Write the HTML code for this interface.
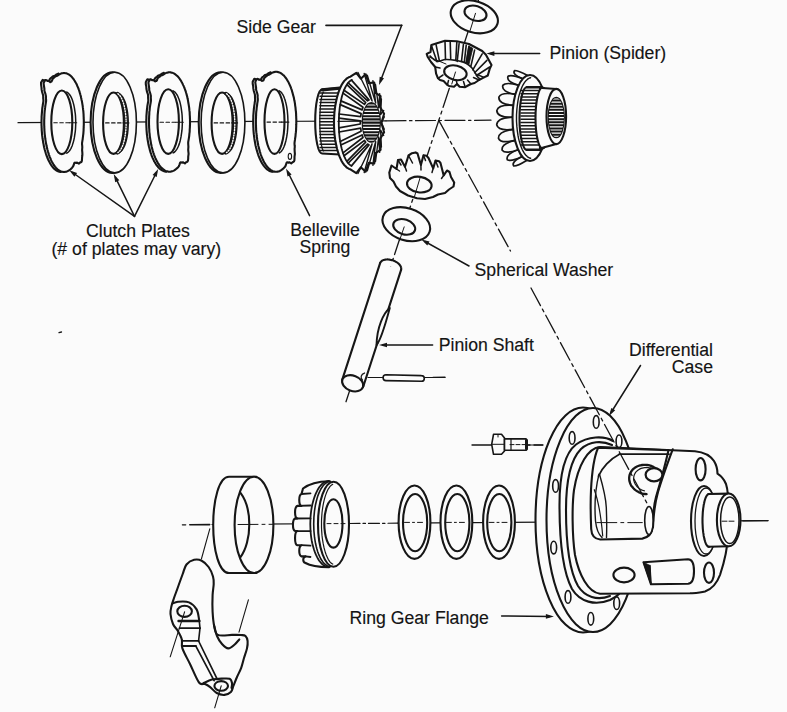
<!DOCTYPE html>
<html><head><meta charset="utf-8"><style>
html,body{margin:0;padding:0;background:#fbfbfb;}
svg{display:block;}
text{font-family:"Liberation Sans",sans-serif;font-size:17.65px;fill:#141414;stroke:#141414;stroke-width:0.15px;}
</style></head><body>
<svg width="787" height="712" viewBox="0 0 787 712" stroke-linecap="round" stroke-linejoin="round">
<defs><clipPath id="sg1b"><ellipse cx="371.3" cy="122.4" rx="8.6" ry="19.4"/></clipPath><clipPath id="sg2b"><ellipse cx="556.3" cy="117.5" rx="7.6" ry="19.8"/></clipPath></defs>
<rect width="787" height="712" fill="#fbfbfb"/>
<text x="236.5" y="33" text-anchor="start">Side Gear</text>
<text x="549.5" y="58.7" text-anchor="start">Pinion (Spider)</text>
<text x="86" y="236.7" text-anchor="start">Clutch Plates</text>
<text x="51.5" y="254.5" text-anchor="start">(# of plates may vary)</text>
<text x="290.3" y="235.8" text-anchor="start">Belleville</text>
<text x="299.4" y="253" text-anchor="start">Spring</text>
<text x="474.6" y="275.5" text-anchor="start">Spherical Washer</text>
<text x="438.8" y="350.5" text-anchor="start">Pinion Shaft</text>
<text x="713" y="355.5" text-anchor="end">Differential</text>
<text x="713" y="373" text-anchor="end">Case</text>
<text x="349.6" y="623.8" text-anchor="start">Ring Gear Flange</text>
<line x1="59" y1="332.6" x2="61.5" y2="332" stroke="#161616" stroke-width="1.3" />
<line x1="326" y1="25.3" x2="401.7" y2="25.3" stroke="#161616" stroke-width="1.7" />
<line x1="401.7" y1="25.3" x2="380.4" y2="81.3" stroke="#161616" stroke-width="1.5" />
<path d="M379,85 L379.7,76.7 L384,78.3Z" fill="#161616"/>
<line x1="539.7" y1="53.6" x2="490.4" y2="53.6" stroke="#161616" stroke-width="1.5" />
<path d="M486.4,53.6 L494.4,51.3 L494.4,55.9Z" fill="#161616"/>
<line x1="134.5" y1="216.4" x2="72.5" y2="172.5" stroke="#161616" stroke-width="1.5" />
<path d="M69.2,170.2 L77.1,172.9 L74.4,176.7Z" fill="#161616"/>
<line x1="134.5" y1="216.4" x2="115.5" y2="177.6" stroke="#161616" stroke-width="1.5" />
<path d="M113.7,174 L119.3,180.2 L115.2,182.2Z" fill="#161616"/>
<line x1="134.5" y1="216.4" x2="156.4" y2="172.5" stroke="#161616" stroke-width="1.5" />
<path d="M158.2,168.9 L156.7,177.1 L152.6,175Z" fill="#161616"/>
<line x1="309.6" y1="215.7" x2="287.8" y2="172" stroke="#161616" stroke-width="1.5" />
<path d="M286,168.4 L291.6,174.5 L287.5,176.6Z" fill="#161616"/>
<line x1="469" y1="266" x2="424.9" y2="241.5" stroke="#161616" stroke-width="1.5" />
<path d="M421.4,239.6 L429.5,241.5 L427.3,245.5Z" fill="#161616"/>
<line x1="432.6" y1="345" x2="383" y2="345" stroke="#161616" stroke-width="1.5" />
<path d="M379,345 L387,342.7 L387,347.3Z" fill="#161616"/>
<line x1="640.5" y1="365.5" x2="611.1" y2="412.5" stroke="#161616" stroke-width="1.5" />
<path d="M609,415.9 L611.3,407.9 L615.2,410.3Z" fill="#161616"/>
<line x1="501.6" y1="616" x2="549.9" y2="616.5" stroke="#161616" stroke-width="1.5" />
<path d="M553.9,616.5 L545.9,618.7 L545.9,614.1Z" fill="#161616"/>
<line x1="18" y1="122.7" x2="386" y2="120.8" stroke="#161616" stroke-width="1.2" />
<line x1="386" y1="120.8" x2="491" y2="120.2" stroke="#161616" stroke-width="1.2" stroke-dasharray="20 3.5 2.5 3.5"/>
<line x1="478.5" y1="0" x2="344.9" y2="405" stroke="#161616" stroke-width="1.3" stroke-dasharray="20 4 3 4"/>
<line x1="438.8" y1="120.4" x2="510.5" y2="251" stroke="#161616" stroke-width="1.3" stroke-dasharray="20 4 3 4"/>
<line x1="182.4" y1="524.8" x2="185.7" y2="524.8" stroke="#161616" stroke-width="1.3" />
<line x1="189.8" y1="524.8" x2="209.7" y2="524.6" stroke="#161616" stroke-width="1.6" />
<line x1="212" y1="524.5" x2="349" y2="523.5" stroke="#161616" stroke-width="1.2" />
<line x1="349" y1="523.5" x2="398" y2="523.2" stroke="#161616" stroke-width="1.2" stroke-dasharray="11 3 2.5 3"/>
<line x1="398" y1="523.2" x2="768" y2="520.6" stroke="#161616" stroke-width="1.2" />
<line x1="472" y1="445" x2="543" y2="445" stroke="#161616" stroke-width="1.3" stroke-dasharray="20 4 3 4"/>
<line x1="368" y1="377.5" x2="445" y2="377.5" stroke="#161616" stroke-width="1.2" />
<path d="M60.6,172 L60.1,171.9 L59.6,171.8 L59.1,171.7 L58.7,171.6 L58.2,171.4 L57.7,171.2 L57.2,170.9 L56.7,170.7 L56.3,170.4 L55.8,170 L55.3,169.7 L54.9,169.3 L54.4,168.9 L53.9,168.4 L53.5,168 L53,167.5 L52.6,167 L52.2,166.4 L51.7,165.8 L51.3,165.2 L50.9,164.6 L50.5,163.9 L50.1,163.3 L49.7,162.5 L49.3,161.8 L48.9,161.1 L48.5,160.3 L48.1,159.5 L47.8,158.7 L47.4,157.8 L47.1,156.9 L46.7,156 L46.4,155.1 L46.1,154.2 L45.8,153.3 L45.5,152.3 L45.2,151.3 L44.9,150.3 L44.6,149.3 L44.4,148.2 L44.1,147.2 L43.9,146.1 L43.7,145 L43.5,143.9 L43.2,142.8 L43.1,141.7 L42.9,140.6 L42.7,139.4 L42.5,138.3 L42.4,137.1 L42.2,135.9 L42.1,134.8 L42,133.6 L41.9,132.4 L41.8,131.2 L41.7,130 L41.7,128.7 L41.6,127.5 L41.6,126.3 L41.5,125.1 L41.5,123.9 L41.5,122.6 L41.5,121.4 L41.5,120.2 L41.6,119 L41.6,117.8 L41.6,116.5 L41.7,115.3 L41.8,114.1 L41.9,112.9 L42,111.7 L42.1,110.5 L42.2,109.3 L42.3,108.2 L42.5,107 L42.7,105.8 L42.8,104.7 L43,103.6 L43.2,102.4 L43.4,101.3 L43.4,99.9 L43.2,98.3 L43.2,96.9 L43.1,95.2 L42.1,92 L41.6,89.4 L41.5,87.6 L41.1,84.8 L41,82.8 L41.5,81.8 L42.1,80.9 L42.6,79.9 L43.6,80.2 L44.8,81 L45.4,80.6 L46.5,81.3 L47.5,82.1 L48,81.6 L48.6,81.6 L49.1,81 L49.5,80.1 L49.8,79.2 L50.3,78.5 L50.8,78.1 L51.3,77.7 L51.8,77.4 L52.2,76.9 L52.7,76.4 L53.2,76.2 L53.7,76.1 L54.2,75.9 L54.7,75.7 L55.2,75.4 L55.7,75 L56.1,74.7 L56.6,74.4 L57.1,74.1 L57.6,73.9 L58.1,73.7 L58.5,73.5" fill="#fbfbfb" stroke="#161616" stroke-width="2.1" />
<path d="M83.8,122.5 L83.8,123.8 L83.8,125.1 L83.7,126.4 L83.7,127.7 L83.6,129 L83.6,130.2 L83.5,131.5 L83.4,132.8 L83.3,134.1 L83.1,135.3 L83,136.6 L82.8,137.8 L82.7,139 L82.5,140.2 L82.3,141.4 L82.1,142.6 L82,144 L82.2,145.6 L82.3,147.3 L82.2,148.7 L82.1,150.2 L82.3,152.2 L82.4,154.1 L82.3,155.7 L82.1,157.2 L82,159 L81.9,160.7 L81.5,161.8 L80.8,162.3 L80,162.6 L79.4,163.1 L78.8,163.7 L77.9,163.2 L77,162.5 L76.4,162.9 L75.7,162.9 L75,162.6 L74.5,162.8 L74.1,163.6 L73.8,164.7 L73.4,165.8 L73,166.6 L72.5,167.2 L72.1,167.7 L71.6,168.2 L71.1,168.7 L70.6,169.2 L70.1,169.6 L69.6,170 L69.1,170.3 L68.6,170.6 L68.1,170.9 L67.6,171.2 L67.1,171.4 L66.6,171.6 L66.1,171.7 L65.6,171.8 L65,171.9 L64.5,172 L64,172 L63.5,172 L63,171.9 L62.4,171.8 L61.9,171.7 L61.4,171.6 L60.9,171.4 L60.4,171.2 L59.9,170.9 L59.4,170.6 L58.9,170.3 L58.4,170 L57.9,169.6 L57.4,169.2 L56.9,168.7 L56.4,168.2 L55.9,167.7 L55.5,167.2 L55,166.6 L54.6,166 L54.1,165.4 L53.7,164.7 L53.2,164 L52.8,163.3 L52.4,162.5 L51.9,161.8 L51.5,161 L51.1,160.1 L50.8,159.3 L50.4,158.4 L50,157.5 L49.6,156.6 L49.3,155.6 L48.9,154.6 L48.6,153.7 L48.3,152.6 L48,151.6 L47.7,150.5 L47.4,149.5 L47.1,148.4 L46.9,147.2 L46.6,146.1 L46.4,145 L46.1,143.8 L45.9,142.6 L45.7,141.4 L45.5,140.2 L45.3,139 L45.2,137.8 L45,136.6 L44.9,135.3 L44.7,134.1 L44.6,132.8 L44.5,131.5 L44.4,130.2 L44.4,129 L44.3,127.7 L44.3,126.4 L44.2,125.1 L44.2,123.8 L44.2,122.5 L44.2,121.2 L44.2,119.9 L44.3,118.6 L44.3,117.3 L44.4,116 L44.4,114.8 L44.5,113.5 L44.6,112.2 L44.7,110.9 L44.9,109.7 L45,108.4 L45.2,107.2 L45.3,106 L45.5,104.8 L45.7,103.6 L45.9,102.4 L46.1,101.2 L46.1,99.6 L45.9,97.9 L46,96.5 L45.5,94.1 L44.4,90.7 L44.4,88.7 L44,86.1 L43.6,83.4 L44,82.1 L44.6,81.2 L45.2,80.1 L46.1,80 L47.4,81 L48.1,80.6 L49.2,81.3 L50.2,82.1 L50.8,81.6 L51.4,81.6 L51.9,80.8 L52.3,79.8 L52.7,78.9 L53.2,78.3 L53.7,77.9 L54.2,77.6 L54.7,77.1 L55.2,76.6 L55.8,76.3 L56.3,76.1 L56.9,75.9 L57.4,75.7 L57.9,75.4 L58.4,75 L58.9,74.7 L59.4,74.4 L59.9,74.1 L60.4,73.8 L60.9,73.6 L61.4,73.4 L61.9,73.3 L62.4,73.2 L63,73.1 L63.5,73 L64,73 L64.5,73 L65,73.1 L65.6,73.2 L66.1,73.3 L66.6,73.4 L67.1,73.6 L67.6,73.8 L68.1,74.1 L68.6,74.4 L69.1,74.7 L69.6,75 L70.1,75.4 L70.6,75.8 L71.1,76.3 L71.6,76.8 L72.1,77.3 L72.5,77.8 L73,78.4 L73.4,79 L73.9,79.6 L74.3,80.3 L74.8,81 L75.2,81.7 L75.6,82.5 L76.1,83.2 L76.5,84 L76.9,84.9 L77.2,85.7 L77.6,86.6 L78,87.5 L78.4,88.4 L78.7,89.4 L79.1,90.4 L79.4,91.3 L79.7,92.4 L80,93.4 L80.3,94.5 L80.6,95.5 L80.9,96.6 L81.1,97.7 L81.4,98.9 L81.6,100 L81.9,101.2 L82.1,102.4 L82.3,103.6 L82.5,104.8 L82.7,106 L82.8,107.2 L83,108.4 L83.1,109.7 L83.3,110.9 L83.4,112.2 L83.5,113.5 L83.6,114.8 L83.6,116 L83.7,117.3 L83.7,118.6 L83.8,119.9 L83.8,121.2 L83.8,122.5Z" fill="#fbfbfb" stroke="#161616" stroke-width="2.1" />
<ellipse cx="61.8" cy="122.3" rx="10.5" ry="31.8" fill="#fbfbfb" stroke="#161616" stroke-width="2.1" />
<path d="M66.7,92.1 L67.4,92.4 L68.1,93 L68.8,93.7 L69.5,94.5 L70.2,95.5 L70.9,96.6 L71.5,97.9 L72.1,99.2 L72.6,100.8 L73.1,102.4 L73.6,104.1 L74,105.9 L74.4,107.8 L74.7,109.8 L75,111.8 L75.3,113.9 L75.5,116 L75.6,118.2 L75.7,120.4 L75.7,122.6 L75.7,124.8 L75.6,127 L75.5,129.2 L75.3,131.3 L75,133.4 L74.7,135.4 L74.4,137.4 L74,139.3 L73.6,141.1 L73.1,142.8 L72.6,144.4 L72.1,146 L71.5,147.3 L70.9,148.6 L70.2,149.7 L69.5,150.7 L68.8,151.5 L68.1,152.2 L67.4,152.8 L66.7,153.1" fill="none" stroke="#161616" stroke-width="1.5" />
<line x1="53.8" y1="122.8" x2="69.3" y2="122.8" stroke="#161616" stroke-width="1.1" stroke-dasharray="3.5 2.5"/>
<line x1="69.3" y1="122.8" x2="76.7" y2="122.8" stroke="#161616" stroke-width="1.1" />
<ellipse cx="112.3" cy="122.6" rx="21.7" ry="50.3" fill="#fbfbfb" stroke="#161616" stroke-width="2.1" />
<ellipse cx="114.7" cy="122.6" rx="21.7" ry="50.3" fill="#fbfbfb" stroke="#161616" stroke-width="1.6" />
<ellipse cx="113.5" cy="123.2" rx="10.4" ry="30.7" fill="#fbfbfb" stroke="#161616" stroke-width="2.1" />
<path d="M119.6,94.2 L120.3,94.6 L121,95.2 L121.7,95.9 L122.4,96.7 L123,97.7 L123.6,98.8 L124.2,100 L124.8,101.3 L125.3,102.7 L125.8,104.3 L126.2,105.9 L126.6,107.6 L127,109.4 L127.3,111.2 L127.6,113.1 L127.8,115.1 L128,117.1 L128.1,119.1 L128.2,121.1 L128.2,123.2 L128.2,125.3 L128.1,127.3 L128,129.3 L127.8,131.3 L127.6,133.3 L127.3,135.2 L127,137 L126.6,138.8 L126.2,140.5 L125.8,142.1 L125.3,143.7 L124.8,145.1 L124.2,146.4 L123.6,147.6 L123,148.7 L122.4,149.7 L121.7,150.5 L121,151.2 L120.3,151.8 L119.6,152.2" fill="none" stroke="#161616" stroke-width="1.5" />
<path d="M117.5,93.6 L118.2,94 L118.9,94.6 L119.6,95.3 L120.3,96.2 L120.9,97.1 L121.5,98.3 L122.1,99.5 L122.7,100.8 L123.2,102.3 L123.7,103.9 L124.1,105.5 L124.5,107.3 L124.9,109.1 L125.2,111 L125.5,112.9 L125.7,114.9 L125.9,116.9 L126,119 L126.1,121.1 L126.1,123.2 L126.1,125.3 L126,127.4 L125.9,129.5 L125.7,131.5 L125.5,133.5 L125.2,135.4 L124.9,137.3 L124.5,139.1 L124.1,140.9 L123.7,142.5 L123.2,144.1 L122.7,145.6 L122.1,146.9 L121.5,148.1 L120.9,149.3 L120.3,150.2 L119.6,151.1 L118.9,151.8 L118.2,152.4 L117.5,152.8" fill="none" stroke="#161616" stroke-width="3.6" />
<path d="M117.9,93.8 L118.5,94.3 L119.2,94.9 L119.9,95.7 L120.5,96.5 L121.1,97.5 L121.7,98.7 L122.3,99.9 L122.8,101.3 L123.3,102.7 L123.8,104.3 L124.2,105.9 L124.6,107.6 L124.9,109.4 L125.2,111.3 L125.5,113.2 L125.7,115.1 L125.9,117.1 L126,119.1 L126.1,121.2 L126.1,123.2 L126.1,125.2 L126,127.3 L125.9,129.3 L125.7,131.3 L125.5,133.2 L125.2,135.1 L124.9,137 L124.6,138.8 L124.2,140.5 L123.8,142.1 L123.3,143.7 L122.8,145.1 L122.3,146.5 L121.7,147.7 L121.1,148.9 L120.5,149.9 L119.9,150.7 L119.2,151.5 L118.5,152.1 L117.9,152.6" fill="none" stroke="#fbfbfb" stroke-width="1.4" stroke-dasharray="1.1 1.6"/>
<line x1="105.6" y1="122.9" x2="121.9" y2="122.9" stroke="#161616" stroke-width="1.1" stroke-dasharray="3.5 2.5"/>
<line x1="122.9" y1="122.9" x2="128.9" y2="122.9" stroke="#161616" stroke-width="1.1" />
<path d="M166.1,171.7 L165.6,171.6 L165.1,171.5 L164.6,171.4 L164.1,171.3 L163.6,171.1 L163.1,170.9 L162.6,170.6 L162.1,170.4 L161.6,170.1 L161.1,169.7 L160.6,169.4 L160.1,169 L159.6,168.6 L159.2,168.1 L158.7,167.7 L158.2,167.2 L157.8,166.6 L157.3,166.1 L156.9,165.5 L156.4,164.9 L156,164.3 L155.6,163.6 L155.2,162.9 L154.8,162.2 L154.3,161.5 L153.9,160.7 L153.6,159.9 L153.2,159.1 L152.8,158.3 L152.4,157.4 L152.1,156.6 L151.7,155.7 L151.4,154.8 L151.1,153.8 L150.7,152.9 L150.4,151.9 L150.1,150.9 L149.8,149.9 L149.6,148.9 L149.3,147.8 L149,146.8 L148.8,145.7 L148.5,144.6 L148.3,143.5 L148.1,142.4 L147.9,141.3 L147.7,140.1 L147.5,139 L147.4,137.8 L147.2,136.7 L147.1,135.5 L146.9,134.3 L146.8,133.1 L146.7,131.9 L146.6,130.7 L146.5,129.5 L146.5,128.3 L146.4,127.1 L146.4,125.8 L146.3,124.6 L146.3,123.4 L146.3,122.1 L146.3,120.9 L146.3,119.7 L146.4,118.5 L146.4,117.2 L146.4,116 L146.5,114.8 L146.6,113.6 L146.7,112.4 L146.8,111.2 L146.9,110 L147,108.8 L147.2,107.6 L147.3,106.4 L147.5,105.3 L147.7,104.1 L147.9,103 L148.1,101.9 L148.3,100.7 L148.2,99.3 L148.1,97.7 L148.1,96.3 L148,94.6 L146.9,91.4 L146.4,88.8 L146.3,86.9 L145.8,84.2 L145.8,82.1 L146.3,81.1 L146.9,80.2 L147.4,79.2 L148.5,79.5 L149.7,80.4 L150.4,79.9 L151.4,80.6 L152.5,81.4 L153,81 L153.7,81 L154.2,80.3 L154.5,79.4 L154.9,78.5 L155.4,77.8 L155.9,77.4 L156.4,77.1 L156.9,76.7 L157.4,76.2 L157.9,75.8 L158.4,75.5 L159,75.4 L159.5,75.2 L160,75 L160.5,74.7 L161,74.3 L161.5,74 L162,73.7 L162.5,73.4 L162.9,73.2 L163.4,73 L163.9,72.8" fill="#fbfbfb" stroke="#161616" stroke-width="2.1" />
<path d="M190,122 L190,123.3 L190,124.6 L189.9,125.9 L189.9,127.2 L189.8,128.5 L189.7,129.8 L189.7,131.1 L189.6,132.3 L189.4,133.6 L189.3,134.9 L189.2,136.1 L189,137.4 L188.8,138.6 L188.6,139.8 L188.4,141 L188.2,142.2 L188.2,143.6 L188.3,145.2 L188.4,146.9 L188.3,148.3 L188.2,149.8 L188.4,151.8 L188.6,153.8 L188.4,155.3 L188.2,156.8 L188.2,158.7 L188,160.4 L187.6,161.4 L186.9,162 L186.1,162.2 L185.5,162.8 L184.9,163.4 L183.9,162.8 L182.9,162.2 L182.3,162.6 L181.7,162.6 L180.9,162.2 L180.3,162.4 L179.9,163.3 L179.6,164.4 L179.2,165.5 L178.8,166.3 L178.3,166.9 L177.8,167.4 L177.3,167.9 L176.8,168.4 L176.3,168.8 L175.8,169.3 L175.3,169.7 L174.8,170 L174.3,170.3 L173.8,170.6 L173.2,170.9 L172.7,171.1 L172.2,171.3 L171.6,171.4 L171.1,171.5 L170.6,171.6 L170,171.7 L169.5,171.7 L169,171.7 L168.4,171.6 L167.9,171.5 L167.4,171.4 L166.8,171.3 L166.3,171.1 L165.8,170.9 L165.2,170.6 L164.7,170.3 L164.2,170 L163.7,169.7 L163.2,169.3 L162.7,168.8 L162.2,168.4 L161.7,167.9 L161.2,167.4 L160.7,166.9 L160.2,166.3 L159.7,165.7 L159.2,165 L158.8,164.4 L158.3,163.7 L157.9,163 L157.5,162.2 L157,161.4 L156.6,160.6 L156.2,159.8 L155.8,158.9 L155.4,158.1 L155,157.1 L154.6,156.2 L154.3,155.3 L153.9,154.3 L153.6,153.3 L153.2,152.3 L152.9,151.2 L152.6,150.2 L152.3,149.1 L152,148 L151.7,146.8 L151.5,145.7 L151.2,144.6 L151,143.4 L150.8,142.2 L150.6,141 L150.4,139.8 L150.2,138.6 L150,137.4 L149.8,136.1 L149.7,134.9 L149.6,133.6 L149.4,132.3 L149.3,131.1 L149.3,129.8 L149.2,128.5 L149.1,127.2 L149.1,125.9 L149,124.6 L149,123.3 L149,122 L149,120.7 L149,119.4 L149.1,118.1 L149.1,116.8 L149.2,115.5 L149.3,114.2 L149.3,112.9 L149.4,111.7 L149.6,110.4 L149.7,109.1 L149.8,107.9 L150,106.6 L150.2,105.4 L150.4,104.2 L150.6,103 L150.8,101.8 L151,100.6 L150.9,99 L150.8,97.3 L150.9,95.9 L150.3,93.5 L149.2,90.1 L149.2,88.1 L148.8,85.5 L148.4,82.8 L148.8,81.4 L149.5,80.5 L150,79.4 L151,79.4 L152.3,80.3 L153,80 L154.1,80.6 L155.2,81.4 L155.8,81 L156.5,80.9 L157,80.1 L157.3,79.1 L157.8,78.2 L158.3,77.6 L158.8,77.2 L159.4,76.9 L159.9,76.4 L160.4,75.9 L161,75.6 L161.5,75.4 L162.1,75.3 L162.6,75.1 L163.2,74.7 L163.7,74.3 L164.2,74 L164.7,73.7 L165.2,73.4 L165.8,73.1 L166.3,72.9 L166.8,72.7 L167.4,72.6 L167.9,72.5 L168.4,72.4 L169,72.3 L169.5,72.3 L170,72.3 L170.6,72.4 L171.1,72.5 L171.6,72.6 L172.2,72.7 L172.7,72.9 L173.2,73.1 L173.8,73.4 L174.3,73.7 L174.8,74 L175.3,74.3 L175.8,74.7 L176.3,75.2 L176.8,75.6 L177.3,76.1 L177.8,76.6 L178.3,77.1 L178.8,77.7 L179.3,78.3 L179.8,79 L180.2,79.6 L180.7,80.3 L181.1,81 L181.5,81.8 L182,82.6 L182.4,83.4 L182.8,84.2 L183.2,85.1 L183.6,85.9 L184,86.9 L184.4,87.8 L184.7,88.7 L185.1,89.7 L185.4,90.7 L185.8,91.7 L186.1,92.8 L186.4,93.8 L186.7,94.9 L187,96 L187.3,97.1 L187.5,98.3 L187.8,99.4 L188,100.6 L188.2,101.8 L188.4,103 L188.6,104.2 L188.8,105.4 L189,106.6 L189.2,107.9 L189.3,109.1 L189.4,110.4 L189.6,111.7 L189.7,112.9 L189.7,114.2 L189.8,115.5 L189.9,116.8 L189.9,118.1 L190,119.4 L190,120.7 L190,122Z" fill="#fbfbfb" stroke="#161616" stroke-width="2.1" />
<ellipse cx="168.2" cy="121.6" rx="10.7" ry="32.3" fill="#fbfbfb" stroke="#161616" stroke-width="2.1" />
<path d="M173.1,90.9 L173.8,91.3 L174.6,91.8 L175.3,92.5 L176,93.4 L176.7,94.4 L177.4,95.5 L178,96.8 L178.6,98.2 L179.2,99.7 L179.7,101.3 L180.2,103.1 L180.6,104.9 L181,106.9 L181.3,108.9 L181.6,110.9 L181.9,113.1 L182.1,115.2 L182.2,117.4 L182.3,119.7 L182.3,121.9 L182.3,124.1 L182.2,126.4 L182.1,128.6 L181.9,130.7 L181.6,132.9 L181.3,134.9 L181,136.9 L180.6,138.9 L180.2,140.7 L179.7,142.5 L179.2,144.1 L178.6,145.6 L178,147 L177.4,148.3 L176.7,149.4 L176,150.4 L175.3,151.3 L174.6,152 L173.8,152.5 L173.1,152.9" fill="none" stroke="#161616" stroke-width="1.5" />
<line x1="160" y1="122.3" x2="175.9" y2="122.3" stroke="#161616" stroke-width="1.1" stroke-dasharray="3.5 2.5"/>
<line x1="175.9" y1="122.3" x2="183.3" y2="122.3" stroke="#161616" stroke-width="1.1" />
<ellipse cx="220.6" cy="122.6" rx="21.9" ry="50.3" fill="#fbfbfb" stroke="#161616" stroke-width="2.1" />
<ellipse cx="223" cy="122.6" rx="21.9" ry="50.3" fill="#fbfbfb" stroke="#161616" stroke-width="1.6" />
<ellipse cx="222.1" cy="123.2" rx="10.5" ry="30.7" fill="#fbfbfb" stroke="#161616" stroke-width="2.1" />
<path d="M228.2,94.2 L228.9,94.6 L229.6,95.2 L230.3,95.9 L231,96.7 L231.7,97.7 L232.3,98.8 L232.9,100 L233.4,101.3 L234,102.7 L234.4,104.3 L234.9,105.9 L235.3,107.6 L235.7,109.4 L236,111.2 L236.3,113.1 L236.5,115.1 L236.7,117.1 L236.8,119.1 L236.9,121.1 L236.9,123.2 L236.9,125.3 L236.8,127.3 L236.7,129.3 L236.5,131.3 L236.3,133.3 L236,135.2 L235.7,137 L235.3,138.8 L234.9,140.5 L234.4,142.1 L234,143.7 L233.4,145.1 L232.9,146.4 L232.3,147.6 L231.7,148.7 L231,149.7 L230.3,150.5 L229.6,151.2 L228.9,151.8 L228.2,152.2" fill="none" stroke="#161616" stroke-width="1.5" />
<path d="M226.1,93.6 L226.8,94 L227.5,94.6 L228.2,95.3 L228.9,96.2 L229.5,97.1 L230.2,98.3 L230.8,99.5 L231.3,100.8 L231.9,102.3 L232.3,103.9 L232.8,105.5 L233.2,107.3 L233.6,109.1 L233.9,111 L234.2,112.9 L234.4,114.9 L234.6,116.9 L234.7,119 L234.8,121.1 L234.8,123.2 L234.8,125.3 L234.7,127.4 L234.6,129.5 L234.4,131.5 L234.2,133.5 L233.9,135.4 L233.6,137.3 L233.2,139.1 L232.8,140.9 L232.3,142.5 L231.9,144.1 L231.3,145.6 L230.8,146.9 L230.2,148.1 L229.5,149.3 L228.9,150.2 L228.2,151.1 L227.5,151.8 L226.8,152.4 L226.1,152.8" fill="none" stroke="#161616" stroke-width="3.6" />
<path d="M226.5,93.8 L227.2,94.3 L227.9,94.9 L228.5,95.7 L229.2,96.5 L229.8,97.5 L230.4,98.7 L231,99.9 L231.5,101.3 L232,102.7 L232.5,104.3 L232.9,105.9 L233.3,107.6 L233.6,109.4 L233.9,111.3 L234.2,113.2 L234.4,115.1 L234.6,117.1 L234.7,119.1 L234.8,121.2 L234.8,123.2 L234.8,125.2 L234.7,127.3 L234.6,129.3 L234.4,131.3 L234.2,133.2 L233.9,135.1 L233.6,137 L233.3,138.8 L232.9,140.5 L232.5,142.1 L232,143.7 L231.5,145.1 L231,146.5 L230.4,147.7 L229.8,148.9 L229.2,149.9 L228.5,150.7 L227.9,151.5 L227.2,152.1 L226.5,152.6" fill="none" stroke="#fbfbfb" stroke-width="1.4" stroke-dasharray="1.1 1.6"/>
<line x1="214.1" y1="122.9" x2="230.6" y2="122.9" stroke="#161616" stroke-width="1.1" stroke-dasharray="3.5 2.5"/>
<line x1="231.6" y1="122.9" x2="237.6" y2="122.9" stroke="#161616" stroke-width="1.1" />
<path d="M272.7,171.8 L272.2,171.7 L271.7,171.6 L271.2,171.5 L270.7,171.4 L270.2,171.2 L269.7,171 L269.2,170.7 L268.7,170.5 L268.3,170.2 L267.8,169.8 L267.3,169.5 L266.8,169.1 L266.4,168.7 L265.9,168.2 L265.4,167.7 L265,167.2 L264.5,166.7 L264.1,166.2 L263.6,165.6 L263.2,165 L262.8,164.3 L262.3,163.7 L261.9,163 L261.5,162.3 L261.1,161.5 L260.7,160.7 L260.3,160 L260,159.2 L259.6,158.3 L259.2,157.5 L258.9,156.6 L258.5,155.7 L258.2,154.8 L257.9,153.8 L257.6,152.9 L257.3,151.9 L257,150.9 L256.7,149.9 L256.4,148.8 L256.1,147.8 L255.9,146.7 L255.6,145.7 L255.4,144.6 L255.2,143.5 L255,142.3 L254.8,141.2 L254.6,140.1 L254.4,138.9 L254.3,137.7 L254.1,136.6 L254,135.4 L253.8,134.2 L253.7,133 L253.6,131.8 L253.5,130.6 L253.4,129.3 L253.4,128.1 L253.3,126.9 L253.3,125.7 L253.2,124.4 L253.2,123.2 L253.2,121.9 L253.2,120.7 L253.2,119.5 L253.3,118.2 L253.3,117 L253.3,115.8 L253.4,114.6 L253.5,113.3 L253.6,112.1 L253.7,110.9 L253.8,109.7 L253.9,108.5 L254.1,107.3 L254.2,106.1 L254.4,105 L254.6,103.8 L254.7,102.7 L254.9,101.5 L255.1,100.4 L255.1,99 L255,97.4 L255,95.9 L254.8,94.2 L253.8,91 L253.3,88.4 L253.2,86.5 L252.7,83.7 L252.7,81.7 L253.2,80.7 L253.8,79.8 L254.3,78.8 L255.4,79.1 L256.6,79.9 L257.2,79.5 L258.3,80.2 L259.3,81 L259.8,80.5 L260.5,80.5 L260.9,79.9 L261.3,78.9 L261.7,78 L262.1,77.4 L262.6,76.9 L263.2,76.6 L263.7,76.2 L264.1,75.7 L264.6,75.3 L265.2,75 L265.7,74.9 L266.2,74.7 L266.7,74.5 L267.2,74.2 L267.7,73.9 L268.1,73.5 L268.6,73.2 L269.1,72.9 L269.6,72.7 L270.1,72.5 L270.6,72.3" fill="#fbfbfb" stroke="#161616" stroke-width="2.1" />
<path d="M296.3,121.8 L296.3,123.1 L296.3,124.4 L296.2,125.7 L296.2,127 L296.1,128.3 L296.1,129.6 L296,130.9 L295.9,132.2 L295.7,133.5 L295.6,134.7 L295.5,136 L295.3,137.3 L295.1,138.5 L295,139.7 L294.8,140.9 L294.6,142.1 L294.5,143.5 L294.6,145.2 L294.8,146.9 L294.6,148.3 L294.6,149.8 L294.7,151.8 L294.9,153.8 L294.7,155.3 L294.5,156.8 L294.5,158.7 L294.4,160.4 L293.9,161.5 L293.2,162 L292.5,162.3 L291.8,162.8 L291.2,163.4 L290.3,162.9 L289.3,162.2 L288.7,162.6 L288.1,162.6 L287.3,162.3 L286.8,162.5 L286.4,163.3 L286,164.5 L285.7,165.5 L285.3,166.4 L284.8,166.9 L284.3,167.5 L283.8,168 L283.3,168.5 L282.8,168.9 L282.3,169.4 L281.8,169.7 L281.3,170.1 L280.8,170.4 L280.3,170.7 L279.8,171 L279.3,171.2 L278.7,171.4 L278.2,171.5 L277.7,171.6 L277.2,171.7 L276.6,171.8 L276.1,171.8 L275.6,171.8 L275,171.7 L274.5,171.6 L274,171.5 L273.5,171.4 L272.9,171.2 L272.4,171 L271.9,170.7 L271.4,170.4 L270.9,170.1 L270.4,169.7 L269.9,169.4 L269.4,168.9 L268.9,168.5 L268.4,168 L267.9,167.5 L267.4,166.9 L266.9,166.4 L266.5,165.7 L266,165.1 L265.5,164.4 L265.1,163.7 L264.7,163 L264.2,162.3 L263.8,161.5 L263.4,160.7 L263,159.8 L262.6,159 L262.2,158.1 L261.8,157.2 L261.4,156.2 L261.1,155.3 L260.7,154.3 L260.4,153.3 L260.1,152.2 L259.8,151.2 L259.5,150.1 L259.2,149 L258.9,147.9 L258.6,146.8 L258.3,145.7 L258.1,144.5 L257.9,143.3 L257.6,142.1 L257.4,140.9 L257.2,139.7 L257.1,138.5 L256.9,137.3 L256.7,136 L256.6,134.7 L256.5,133.5 L256.3,132.2 L256.2,130.9 L256.1,129.6 L256.1,128.3 L256,127 L256,125.7 L255.9,124.4 L255.9,123.1 L255.9,121.8 L255.9,120.5 L255.9,119.2 L256,117.9 L256,116.6 L256.1,115.3 L256.1,114 L256.2,112.7 L256.3,111.4 L256.5,110.1 L256.6,108.9 L256.7,107.6 L256.9,106.3 L257.1,105.1 L257.2,103.9 L257.4,102.7 L257.6,101.5 L257.8,100.2 L257.8,98.7 L257.6,97 L257.7,95.5 L257.2,93.2 L256.1,89.7 L256.1,87.7 L255.7,85.1 L255.3,82.3 L255.7,81 L256.3,80 L256.9,79 L257.8,78.9 L259.2,79.9 L259.9,79.5 L261,80.2 L262,81 L262.6,80.5 L263.3,80.5 L263.7,79.7 L264.1,78.7 L264.5,77.8 L265,77.2 L265.6,76.8 L266.1,76.4 L266.7,75.9 L267.2,75.4 L267.7,75.1 L268.3,74.9 L268.8,74.8 L269.3,74.6 L269.9,74.2 L270.4,73.9 L270.9,73.5 L271.4,73.2 L271.9,72.9 L272.4,72.6 L272.9,72.4 L273.5,72.2 L274,72.1 L274.5,72 L275,71.9 L275.6,71.8 L276.1,71.8 L276.6,71.8 L277.2,71.9 L277.7,72 L278.2,72.1 L278.7,72.2 L279.3,72.4 L279.8,72.6 L280.3,72.9 L280.8,73.2 L281.3,73.5 L281.8,73.9 L282.3,74.2 L282.8,74.7 L283.3,75.1 L283.8,75.6 L284.3,76.1 L284.8,76.7 L285.3,77.2 L285.7,77.9 L286.2,78.5 L286.7,79.2 L287.1,79.9 L287.5,80.6 L288,81.3 L288.4,82.1 L288.8,82.9 L289.2,83.8 L289.6,84.6 L290,85.5 L290.4,86.4 L290.8,87.4 L291.1,88.3 L291.5,89.3 L291.8,90.3 L292.1,91.4 L292.4,92.4 L292.7,93.5 L293,94.6 L293.3,95.7 L293.6,96.8 L293.9,97.9 L294.1,99.1 L294.3,100.3 L294.6,101.5 L294.8,102.7 L295,103.9 L295.1,105.1 L295.3,106.3 L295.5,107.6 L295.6,108.9 L295.7,110.1 L295.9,111.4 L296,112.7 L296.1,114 L296.1,115.3 L296.2,116.6 L296.2,117.9 L296.3,119.2 L296.3,120.5 L296.3,121.8Z" fill="#fbfbfb" stroke="#161616" stroke-width="2.1" />
<ellipse cx="274.5" cy="121.6" rx="10" ry="32.3" fill="#fbfbfb" stroke="#161616" stroke-width="2.1" />
<path d="M279.3,90.9 L280,91.3 L280.7,91.8 L281.4,92.5 L282,93.4 L282.7,94.4 L283.3,95.5 L283.9,96.8 L284.4,98.2 L285,99.7 L285.4,101.3 L285.9,103.1 L286.3,104.9 L286.7,106.9 L287,108.9 L287.3,110.9 L287.5,113.1 L287.7,115.2 L287.8,117.4 L287.9,119.7 L287.9,121.9 L287.9,124.1 L287.8,126.4 L287.7,128.6 L287.5,130.7 L287.3,132.9 L287,134.9 L286.7,136.9 L286.3,138.9 L285.9,140.7 L285.4,142.5 L285,144.1 L284.4,145.6 L283.9,147 L283.3,148.3 L282.7,149.4 L282,150.4 L281.4,151.3 L280.7,152 L280,152.5 L279.3,152.9" fill="none" stroke="#161616" stroke-width="1.5" />
<line x1="267" y1="122.1" x2="281.5" y2="122.1" stroke="#161616" stroke-width="1.1" stroke-dasharray="3.5 2.5"/>
<line x1="281.5" y1="122.1" x2="288.9" y2="122.1" stroke="#161616" stroke-width="1.1" />
<ellipse cx="289.9" cy="156.4" rx="1.7" ry="3" fill="none" stroke="#161616" stroke-width="1.1" />
<path d="M322,89.5 L340,88 L340,154.5 L322,153.5 A6.8,32 0 0 1 322,89.5 Z" fill="#fbfbfb" stroke="#161616" stroke-width="2.1" />
<line x1="320" y1="93" x2="338" y2="93" stroke="#161616" stroke-width="1.5" />
<line x1="320" y1="96.2" x2="338" y2="96.2" stroke="#161616" stroke-width="1.5" />
<line x1="320" y1="99.4" x2="338" y2="99.4" stroke="#161616" stroke-width="1.5" />
<line x1="320" y1="102.6" x2="338" y2="102.6" stroke="#161616" stroke-width="1.5" />
<line x1="320" y1="105.8" x2="338" y2="105.8" stroke="#161616" stroke-width="1.5" />
<line x1="320" y1="109" x2="338" y2="109" stroke="#161616" stroke-width="1.5" />
<line x1="320" y1="112.2" x2="338" y2="112.2" stroke="#161616" stroke-width="1.5" />
<line x1="320" y1="115.4" x2="338" y2="115.4" stroke="#161616" stroke-width="1.5" />
<line x1="320" y1="118.6" x2="338" y2="118.6" stroke="#161616" stroke-width="1.5" />
<line x1="320" y1="121.8" x2="338" y2="121.8" stroke="#161616" stroke-width="1.5" />
<line x1="320" y1="125" x2="338" y2="125" stroke="#161616" stroke-width="1.5" />
<line x1="320" y1="128.2" x2="338" y2="128.2" stroke="#161616" stroke-width="1.5" />
<line x1="320" y1="131.4" x2="338" y2="131.4" stroke="#161616" stroke-width="1.5" />
<line x1="320" y1="134.6" x2="338" y2="134.6" stroke="#161616" stroke-width="1.5" />
<line x1="320" y1="137.8" x2="338" y2="137.8" stroke="#161616" stroke-width="1.5" />
<line x1="320" y1="141" x2="338" y2="141" stroke="#161616" stroke-width="1.5" />
<line x1="320" y1="144.2" x2="338" y2="144.2" stroke="#161616" stroke-width="1.5" />
<line x1="320" y1="147.4" x2="338" y2="147.4" stroke="#161616" stroke-width="1.5" />
<line x1="320" y1="150.6" x2="338" y2="150.6" stroke="#161616" stroke-width="1.5" />
<line x1="322" y1="89.8" x2="340" y2="88.2" stroke="#161616" stroke-width="3.2" />
<path d="M323.6,150.9 L323.3,150.6 L323,150.2 L322.7,149.6 L322.4,148.9 L322.1,148 L321.9,146.9 L321.6,145.7 L321.4,144.4 L321.1,143 L320.9,141.4 L320.7,139.8 L320.5,138 L320.4,136.1 L320.2,134.2 L320.1,132.2 L320,130.1 L319.9,128 L319.8,125.9 L319.8,123.7 L319.8,121.5 L319.8,119.3 L319.8,117.1 L319.9,115 L320,112.9 L320.1,110.8 L320.2,108.8 L320.4,106.9 L320.5,105 L320.7,103.2 L320.9,101.6 L321.1,100 L321.4,98.6 L321.6,97.3 L321.9,96.1 L322.1,95 L322.4,94.1 L322.7,93.4 L323,92.8 L323.3,92.4 L323.6,92.1" fill="none" stroke="#161616" stroke-width="1.3" />
<path d="M356.3,72.8 L360.8,78.7 L365.7,74.3 L368.8,83.1 L374.2,82.5 L375.5,92.9 L380.6,96.2 L379.9,106.8 L384.1,113.7 L381.4,123 L384.1,132.3 L379.9,139.2 L380.6,149.8 L375.5,153.1 L374.2,163.5 L368.8,162.9 L365.7,171.7 L360.8,167.3 L356.3,173.2 L350.4,169.3 L349.1,168.9 L347.8,168.2 L346.5,167.3 L345.3,166.1 L344,164.7 L342.9,163.1 L341.7,161.2 L340.7,159.1 L339.7,156.9 L338.7,154.4 L337.9,151.8 L337.1,149 L336.4,146.1 L335.8,143 L335.2,139.9 L334.8,136.6 L334.4,133.3 L334.2,129.9 L334,126.4 L334,123 L334,119.6 L334.2,116.1 L334.4,112.7 L334.8,109.4 L335.2,106.1 L335.8,103 L336.4,99.9 L337.1,97 L337.9,94.2 L338.7,91.6 L339.7,89.1 L340.7,86.9 L341.7,84.8 L342.9,82.9 L344,81.3 L345.3,79.9 L346.5,78.7 L347.8,77.8 L349.1,77.1 L350.4,76.7Z" fill="#fbfbfb" stroke="#161616" stroke-width="2.1" />
<path d="M351.4,165.8 L350.3,165.2 L349.3,164.3 L348.3,163.3 L347.3,162 L346.3,160.6 L345.4,158.9 L344.6,157.1 L343.8,155.1 L343,153 L342.3,150.7 L341.6,148.2 L341,145.7 L340.5,143 L340,140.2 L339.6,137.3 L339.3,134.4 L339.1,131.4 L338.9,128.4 L338.8,125.3 L338.8,122.2 L338.9,119.2 L339,116.1 L339.2,113.1 L339.5,110.1 L339.8,107.2 L340.3,104.4 L340.8,101.7 L341.3,99.1 L341.9,96.5 L342.6,94.2 L343.4,91.9 L344.1,89.9 L345,88 L345.9,86.2 L346.8,84.7 L347.8,83.3 L348.8,82.2 L349.8,81.2 L350.8,80.5 L351.9,79.9" fill="none" stroke="#161616" stroke-width="1.8" />
<path d="M351.5,165.9 L369,144.9 L367.5,144 L348.2,163.2" fill="none" stroke="#161616" stroke-width="1.7" />
<path d="M346.9,161.4 L365.7,142.2 L364.5,140.4 L344,155.8" fill="none" stroke="#161616" stroke-width="1.7" />
<path d="M343,152.9 L363,137.5 L362.1,134.9 L340.9,145.1" fill="none" stroke="#161616" stroke-width="1.7" />
<path d="M340.2,141.4 L361.1,131.2 L360.7,128.2 L339.1,132" fill="none" stroke="#161616" stroke-width="1.7" />
<path d="M338.9,127.9 L360.3,124 L360.3,120.8 L338.9,118.1" fill="none" stroke="#161616" stroke-width="1.7" />
<path d="M339.1,114 L360.7,116.6 L361.1,113.6 L340.2,104.6" fill="none" stroke="#161616" stroke-width="1.7" />
<path d="M340.9,100.9 L362.1,109.9 L363,107.3 L343,93.1" fill="none" stroke="#161616" stroke-width="1.7" />
<path d="M344,90.2 L364.5,104.4 L365.7,102.6 L346.9,84.6" fill="none" stroke="#161616" stroke-width="1.7" />
<path d="M348.2,82.8 L367.5,100.8 L369,99.9 L351.5,80.1" fill="none" stroke="#161616" stroke-width="1.7" />
<path d="M358,72.5 L372.1,101 L364.2,73.5" fill="none" stroke="#161616" stroke-width="1.4" />
<path d="M367.3,75.3 L375.7,103.1 L372.9,80.6" fill="none" stroke="#161616" stroke-width="1.4" />
<path d="M375.5,84.5 L378.7,107.8 L379.7,93.6" fill="none" stroke="#161616" stroke-width="1.4" />
<path d="M381.4,99 L380.6,114.6 L383.7,110.5" fill="none" stroke="#161616" stroke-width="1.4" />
<path d="M384.3,116.8 L381.3,122.4 L384.3,129.2" fill="none" stroke="#161616" stroke-width="1.4" />
<path d="M383.7,135.5 L380.6,130.2 L381.4,147" fill="none" stroke="#161616" stroke-width="1.4" />
<path d="M379.7,152.4 L378.7,137 L375.5,161.5" fill="none" stroke="#161616" stroke-width="1.4" />
<path d="M372.9,165.4 L375.7,141.7 L367.3,170.7" fill="none" stroke="#161616" stroke-width="1.4" />
<path d="M364.2,172.5 L372.1,143.8 L358,173.5" fill="none" stroke="#161616" stroke-width="1.4" />
<ellipse cx="371.3" cy="122.4" rx="8.6" ry="19.4" fill="#161616" stroke="#161616" stroke-width="2.1" />
<g clip-path="url(#sg1b)">
<line x1="360" y1="105" x2="383" y2="105" stroke="#fbfbfb" stroke-width="1.1" />
<line x1="360" y1="108.2" x2="383" y2="108.2" stroke="#fbfbfb" stroke-width="1.1" />
<line x1="360" y1="111.4" x2="383" y2="111.4" stroke="#fbfbfb" stroke-width="1.1" />
<line x1="360" y1="114.6" x2="383" y2="114.6" stroke="#fbfbfb" stroke-width="1.1" />
<line x1="360" y1="117.8" x2="383" y2="117.8" stroke="#fbfbfb" stroke-width="1.1" />
<line x1="360" y1="121" x2="383" y2="121" stroke="#fbfbfb" stroke-width="1.1" />
<line x1="360" y1="124.2" x2="383" y2="124.2" stroke="#fbfbfb" stroke-width="1.1" />
<line x1="360" y1="127.4" x2="383" y2="127.4" stroke="#fbfbfb" stroke-width="1.1" />
<line x1="360" y1="130.6" x2="383" y2="130.6" stroke="#fbfbfb" stroke-width="1.1" />
<line x1="360" y1="133.8" x2="383" y2="133.8" stroke="#fbfbfb" stroke-width="1.1" />
<line x1="360" y1="137" x2="383" y2="137" stroke="#fbfbfb" stroke-width="1.1" />
<line x1="360" y1="140.2" x2="383" y2="140.2" stroke="#fbfbfb" stroke-width="1.1" />
</g>
<line x1="338" y1="121.4" x2="362.5" y2="121.2" stroke="#161616" stroke-width="1.2" />
<path d="M517.6,162.8 L516.6,164.4 L515.6,165.6 L514.6,166.2 L513.7,166 L513,165.1 L512.4,163.5 L511.9,161.3 L511.6,158.9 L511.6,158.9 L510.4,159.8 L509.3,160.4 L508.3,160.5 L507.4,159.8 L506.8,158.5 L506.4,156.6 L506.3,154.2 L506.3,151.7 L506.3,151.7 L505.1,152 L503.9,151.9 L502.9,151.4 L502.2,150.3 L501.8,148.7 L501.7,146.7 L501.9,144.3 L502.3,141.9 L502.3,141.9 L501.1,141.5 L499.9,140.8 L499.1,139.7 L498.5,138.3 L498.4,136.5 L498.6,134.5 L499.1,132.4 L499.8,130.3 L499.8,130.3 L498.7,129.2 L497.7,127.9 L497,126.4 L496.7,124.7 L496.8,122.9 L497.3,121.1 L498,119.3 L499,117.7 L499,117.7 L498.1,116 L497.3,114.2 L496.9,112.4 L496.8,110.6 L497.2,108.9 L497.9,107.5 L498.9,106.2 L500,105.2 L500,105.2 L499.4,103.1 L498.9,100.9 L498.7,98.9 L498.9,97.1 L499.5,95.7 L500.3,94.7 L501.5,94.1 L502.7,93.7 L502.7,93.7 L502.4,91.3 L502.2,89 L502.3,87 L502.8,85.4 L503.5,84.3 L504.5,83.9 L505.7,83.9 L506.9,84.2 L506.9,84.2 L506.9,81.7 L507.1,79.4 L507.5,77.5 L508.1,76.2 L509,75.6 L510,75.7 L511.1,76.4 L512.3,77.5 L512.3,77.5 L512.6,75.1 L513.1,72.9 L513.8,71.3 L514.6,70.5 L515.5,70.4 L516.4,71 L517.4,72.3 L518.4,73.9 L527.6,75.4 L528.8,75.1 L530,75 L531.1,75.1 L532.3,75.4 L533.5,75.9 L534.7,76.6 L535.8,77.5 L536.9,78.5 L538,79.8 L539.1,81.2 L540.1,82.8 L541,84.6 L541.9,86.5 L542.8,88.6 L543.6,90.8 L544.3,93.2 L544.9,95.6 L545.5,98.2 L546,100.8 L546.5,103.6 L546.8,106.4 L547.1,109.2 L547.3,112.1 L547.5,115.1 L547.5,118 L547.5,120.9 L547.3,123.9 L547.1,126.8 L546.8,129.6 L546.5,132.4 L546,135.2 L545.5,137.8 L544.9,140.4 L544.3,142.8 L543.6,145.2 L542.8,147.4 L541.9,149.5 L541,151.4 L540.1,153.2 L539.1,154.8 L538,156.2 L536.9,157.5 L535.8,158.5 L534.7,159.4 L533.5,160.1 L532.3,160.6 L531.1,160.9 L530,161 L528.8,160.9 L527.6,160.6Z" fill="#fbfbfb" stroke="none" stroke-width="0" />
<path d="M527,160.3 Q517.3,166.3 513.7,166 Q510.8,162 522.3,156.6" fill="none" stroke="#161616" stroke-width="1.7" />
<path d="M522.3,156.6 Q510.8,162 507.4,159.8 Q505.1,154.3 518.2,149.8" fill="none" stroke="#161616" stroke-width="1.7" />
<path d="M518.2,149.8 Q505.1,154.3 502.2,150.3 Q500.8,143.8 515.1,140.4" fill="none" stroke="#161616" stroke-width="1.7" />
<path d="M515.1,140.4 Q500.8,143.8 498.5,138.3 Q498.1,131.2 513.1,129.3" fill="none" stroke="#161616" stroke-width="1.7" />
<path d="M513.1,129.3 Q498.1,131.2 496.7,124.7 Q497.3,117.7 512.5,117.2" fill="none" stroke="#161616" stroke-width="1.7" />
<path d="M512.5,117.2 Q497.3,117.7 496.8,110.6 Q498.3,104.2 513.3,105.3" fill="none" stroke="#161616" stroke-width="1.7" />
<path d="M513.3,105.3 Q498.3,104.2 498.9,97.1 Q501.3,91.8 515.4,94.3" fill="none" stroke="#161616" stroke-width="1.7" />
<path d="M515.4,94.3 Q501.3,91.8 502.8,85.4 Q505.8,81.6 518.7,85.3" fill="none" stroke="#161616" stroke-width="1.7" />
<path d="M518.7,85.3 Q505.8,81.6 508.1,76.2 Q511.6,74.3 522.8,78.8" fill="none" stroke="#161616" stroke-width="1.7" />
<path d="M522.8,78.8 Q511.6,74.3 514.6,70.5 Q518.1,70.5 527.6,75.4" fill="none" stroke="#161616" stroke-width="1.7" />
<ellipse cx="530" cy="118" rx="17.5" ry="43" fill="#fbfbfb" stroke="#161616" stroke-width="2.1" />
<path d="M530.6,158.3 L529.5,158 L528.4,157.4 L527.3,156.6 L526.2,155.6 L525.1,154.3 L524.1,152.9 L523.2,151.3 L522.2,149.5 L521.4,147.5 L520.6,145.4 L519.8,143.1 L519.1,140.6 L518.5,138.1 L518,135.4 L517.6,132.7 L517.2,129.8 L516.9,126.9 L516.7,124 L516.5,121 L516.5,118 L516.5,115 L516.7,112 L516.9,109.1 L517.2,106.2 L517.6,103.3 L518,100.6 L518.5,97.9 L519.1,95.4 L519.8,92.9 L520.6,90.6 L521.4,88.5 L522.2,86.5 L523.2,84.7 L524.1,83.1 L525.1,81.7 L526.2,80.4 L527.3,79.4 L528.4,78.6 L529.5,78 L530.6,77.7" fill="none" stroke="#161616" stroke-width="1.4" />
<path d="M527,87 L540,87 L540,150 L527,150 A7.5,31.5 0 0 1 527,87 Z" fill="#fbfbfb" stroke="#161616" stroke-width="2.1" />
<line x1="521" y1="90.5" x2="539" y2="90.5" stroke="#161616" stroke-width="1.5" />
<line x1="521" y1="93.7" x2="539" y2="93.7" stroke="#161616" stroke-width="1.5" />
<line x1="521" y1="96.9" x2="539" y2="96.9" stroke="#161616" stroke-width="1.5" />
<line x1="521" y1="100.1" x2="539" y2="100.1" stroke="#161616" stroke-width="1.5" />
<line x1="521" y1="103.3" x2="539" y2="103.3" stroke="#161616" stroke-width="1.5" />
<line x1="521" y1="106.5" x2="539" y2="106.5" stroke="#161616" stroke-width="1.5" />
<line x1="521" y1="109.7" x2="539" y2="109.7" stroke="#161616" stroke-width="1.5" />
<line x1="521" y1="112.9" x2="539" y2="112.9" stroke="#161616" stroke-width="1.5" />
<line x1="521" y1="116.1" x2="539" y2="116.1" stroke="#161616" stroke-width="1.5" />
<line x1="521" y1="119.3" x2="539" y2="119.3" stroke="#161616" stroke-width="1.5" />
<line x1="521" y1="122.5" x2="539" y2="122.5" stroke="#161616" stroke-width="1.5" />
<line x1="521" y1="125.7" x2="539" y2="125.7" stroke="#161616" stroke-width="1.5" />
<line x1="521" y1="128.9" x2="539" y2="128.9" stroke="#161616" stroke-width="1.5" />
<line x1="521" y1="132.1" x2="539" y2="132.1" stroke="#161616" stroke-width="1.5" />
<line x1="521" y1="135.3" x2="539" y2="135.3" stroke="#161616" stroke-width="1.5" />
<line x1="521" y1="138.5" x2="539" y2="138.5" stroke="#161616" stroke-width="1.5" />
<line x1="521" y1="141.7" x2="539" y2="141.7" stroke="#161616" stroke-width="1.5" />
<line x1="521" y1="144.9" x2="539" y2="144.9" stroke="#161616" stroke-width="1.5" />
<line x1="527" y1="87.2" x2="540" y2="87.2" stroke="#161616" stroke-width="2.6" />
<line x1="527" y1="149.8" x2="540" y2="149.8" stroke="#161616" stroke-width="2.6" />
<ellipse cx="542.5" cy="118" rx="7" ry="30.5" fill="#fbfbfb" stroke="#161616" stroke-width="2.1" />
<path d="M542.5,88.5 L556.3,89 L556.3,144 L542.5,147 Z" fill="#fbfbfb" stroke="none" stroke-width="0" />
<line x1="542.5" y1="88" x2="556.3" y2="89" stroke="#161616" stroke-width="2.1" />
<line x1="542.5" y1="147.8" x2="556.3" y2="144" stroke="#161616" stroke-width="2.1" />
<ellipse cx="556.3" cy="116.5" rx="9.8" ry="27.6" fill="#fbfbfb" stroke="#161616" stroke-width="2.1" />
<ellipse cx="556.3" cy="117.5" rx="7.6" ry="19.8" fill="#161616" stroke="#161616" stroke-width="2.1" />
<g clip-path="url(#sg2b)">
<line x1="545" y1="99" x2="568" y2="99" stroke="#fbfbfb" stroke-width="1.1" />
<line x1="545" y1="102.1" x2="568" y2="102.1" stroke="#fbfbfb" stroke-width="1.1" />
<line x1="545" y1="105.2" x2="568" y2="105.2" stroke="#fbfbfb" stroke-width="1.1" />
<line x1="545" y1="108.3" x2="568" y2="108.3" stroke="#fbfbfb" stroke-width="1.1" />
<line x1="545" y1="111.4" x2="568" y2="111.4" stroke="#fbfbfb" stroke-width="1.1" />
<line x1="545" y1="114.5" x2="568" y2="114.5" stroke="#fbfbfb" stroke-width="1.1" />
<line x1="545" y1="117.6" x2="568" y2="117.6" stroke="#fbfbfb" stroke-width="1.1" />
<line x1="545" y1="120.7" x2="568" y2="120.7" stroke="#fbfbfb" stroke-width="1.1" />
<line x1="545" y1="123.8" x2="568" y2="123.8" stroke="#fbfbfb" stroke-width="1.1" />
<line x1="545" y1="126.9" x2="568" y2="126.9" stroke="#fbfbfb" stroke-width="1.1" />
<line x1="545" y1="130" x2="568" y2="130" stroke="#fbfbfb" stroke-width="1.1" />
<line x1="545" y1="133.1" x2="568" y2="133.1" stroke="#fbfbfb" stroke-width="1.1" />
<line x1="545" y1="136.2" x2="568" y2="136.2" stroke="#fbfbfb" stroke-width="1.1" />
</g>
<ellipse cx="474.3" cy="16.8" rx="24.2" ry="15.6" fill="#fbfbfb" stroke="#161616" stroke-width="2.1" transform="rotate(17 474.3 16.8)" />
<ellipse cx="475.5" cy="13.3" rx="11.3" ry="7.3" fill="#fbfbfb" stroke="#161616" stroke-width="2.1" transform="rotate(17 475.5 13.3)" />
<ellipse cx="406.3" cy="224.2" rx="24.5" ry="16" fill="#fbfbfb" stroke="#161616" stroke-width="2.1" transform="rotate(18 406.3 224.2)" />
<ellipse cx="404.2" cy="226.9" rx="11.3" ry="7.4" fill="#fbfbfb" stroke="#161616" stroke-width="2.1" transform="rotate(18 404.2 226.9)" />
<line x1="475.5" y1="13.3" x2="469.8" y2="31.5" stroke="#161616" stroke-width="1.0" />
<line x1="404.2" y1="226.9" x2="399.6" y2="240.3" stroke="#161616" stroke-width="1.0" />
<path d="M431.4,44.9 L445,40.7 L456.8,41.2 L469,44 L482.2,51 L485.9,54.8 L491.5,65.1 L489.7,68.9 L487.8,75.5 L484,77.4 L479,80 L474.6,83 L470.9,84 L468,85.5 L465.2,87.2 L459.6,86.8 L457,84 L454,86.8 L449,86 L447.4,84.9 L443.6,81.1 L440,80 L438,78.3 L436.1,73.6 L435.2,67 L431,62 L427.6,56.7 L426.7,53.9 L430.5,52Z" fill="#fbfbfb" stroke="#161616" stroke-width="2.1" />
<line x1="431.4" y1="45.4" x2="437" y2="61.4" stroke="#161616" stroke-width="1.6" />
<line x1="436.1" y1="44.9" x2="439.4" y2="60.9" stroke="#161616" stroke-width="1.6" />
<line x1="445" y1="41.6" x2="445.5" y2="59.5" stroke="#161616" stroke-width="1.6" />
<line x1="450.2" y1="41.6" x2="450.7" y2="58.6" stroke="#161616" stroke-width="1.6" />
<line x1="456.8" y1="42.6" x2="455.8" y2="60.4" stroke="#161616" stroke-width="1.6" />
<line x1="459.1" y1="43.5" x2="457.2" y2="61.4" stroke="#161616" stroke-width="1.6" />
<line x1="463.4" y1="44.5" x2="461.5" y2="61.4" stroke="#161616" stroke-width="1.6" />
<line x1="466.2" y1="45.4" x2="464.3" y2="62.3" stroke="#161616" stroke-width="1.6" />
<line x1="469" y1="46.3" x2="466.2" y2="63.3" stroke="#161616" stroke-width="1.6" />
<line x1="474.6" y1="50.1" x2="470.9" y2="66.1" stroke="#161616" stroke-width="1.6" />
<line x1="482.2" y1="53.9" x2="472.8" y2="69.8" stroke="#161616" stroke-width="1.6" />
<line x1="486.9" y1="60.4" x2="474.6" y2="72.7" stroke="#161616" stroke-width="1.6" />
<line x1="489.7" y1="67" x2="476.5" y2="75.5" stroke="#161616" stroke-width="1.6" />
<path d="M469,46.3 L472.8,48.2 L469,64.2 L466.2,63.3Z" fill="#161616" stroke="#161616" stroke-width="0.8" />
<path d="M430,56 C431.2,56.9 434.4,60.8 437,61.4 C439.6,62 442.4,59.7 445.5,59.5 C448.6,59.3 452.4,59.8 455.8,60.4 C459.2,61 463.3,61.9 466,63.2 C468.7,64.5 470.2,65.9 472,68 C473.8,70.1 475.7,74.2 477,76 C478.3,77.8 479.5,78.5 480,79" fill="none" stroke="#161616" stroke-width="1.6" />
<line x1="438" y1="78.3" x2="443" y2="75" stroke="#161616" stroke-width="1.5" />
<line x1="447.4" y1="84.9" x2="448.5" y2="80.5" stroke="#161616" stroke-width="1.5" />
<line x1="457" y1="84" x2="456.5" y2="81" stroke="#161616" stroke-width="1.5" />
<line x1="465.2" y1="87.2" x2="463.5" y2="81.5" stroke="#161616" stroke-width="1.5" />
<line x1="470.9" y1="84" x2="467.5" y2="80" stroke="#161616" stroke-width="1.5" />
<line x1="479" y1="80" x2="473.5" y2="77.5" stroke="#161616" stroke-width="1.5" />
<line x1="484" y1="77.4" x2="477" y2="74.5" stroke="#161616" stroke-width="1.5" />
<line x1="435.2" y1="67" x2="440" y2="68" stroke="#161616" stroke-width="1.5" />
<ellipse cx="455.4" cy="72.7" rx="11.4" ry="7.2" fill="#fbfbfb" stroke="#161616" stroke-width="2.1" transform="rotate(13 455.4 72.7)" />
<line x1="455.5" y1="72" x2="451.8" y2="84" stroke="#161616" stroke-width="1.0" />
<line x1="429" y1="57" x2="446" y2="64" stroke="#161616" stroke-width="1.0" />
<path d="M390,178 L389.3,172.6 L391.5,165.5 L396.5,169 L398,160 L401,159.5 L405,166.7 L408.5,155.5 L412,153.2 L415.6,152.4 L417.5,153.5 L420.9,164.9 L423.5,155.3 L426.5,155.8 L428.5,158 L433.2,168.4 L435.5,160.6 L439,161.2 L440.5,163 L443.7,175.4 L447,170.5 L449.5,172 L451,177 L454.2,182.5 L453.5,186.5 L449,189.5 L445,193 L438,194.5 L433,197 L425,199 L417,198.2 L408,195.5 L400,191 L396,186.5 L393.5,181.5Z" fill="#fbfbfb" stroke="#161616" stroke-width="2.1" />
<line x1="396.5" y1="169" x2="399.5" y2="171" stroke="#161616" stroke-width="1.5" />
<line x1="405" y1="166.7" x2="406.5" y2="171" stroke="#161616" stroke-width="1.5" />
<line x1="420.9" y1="164.9" x2="421" y2="170" stroke="#161616" stroke-width="1.5" />
<line x1="433.2" y1="168.4" x2="432" y2="172.5" stroke="#161616" stroke-width="1.5" />
<line x1="443.7" y1="175.4" x2="441.5" y2="178.5" stroke="#161616" stroke-width="1.5" />
<line x1="408.5" y1="155.5" x2="412.5" y2="163" stroke="#161616" stroke-width="1.5" />
<line x1="423.5" y1="155.3" x2="425.5" y2="160.5" stroke="#161616" stroke-width="1.5" />
<line x1="435.5" y1="160.6" x2="438" y2="167" stroke="#161616" stroke-width="1.5" />
<line x1="398" y1="160" x2="401" y2="165" stroke="#161616" stroke-width="1.5" />
<ellipse cx="419.3" cy="184.6" rx="12.4" ry="7.8" fill="#fbfbfb" stroke="#161616" stroke-width="2.1" transform="rotate(8 419.3 184.6)" />
<line x1="420" y1="178" x2="414.5" y2="196.5" stroke="#161616" stroke-width="1.0" />
<path d="M380.1,263.1 L342.2,379.9 L363.2,386.7 L401.1,269.9Z" fill="#fbfbfb" stroke="none" stroke-width="0" />
<path d="M380.1,263.1 L380.3,262.6 L380.6,262.2 L380.9,261.8 L381.3,261.4 L381.7,261 L382.2,260.7 L382.7,260.4 L383.3,260.1 L383.9,259.9 L384.6,259.7 L385.3,259.6 L386.1,259.5 L386.8,259.5 L387.6,259.4 L388.4,259.5 L389.3,259.6 L390.1,259.7 L390.9,259.9 L391.8,260.1 L392.6,260.3 L393.4,260.6 L394.2,260.9 L395,261.3 L395.7,261.7 L396.5,262.1 L397.1,262.5 L397.8,263 L398.4,263.5 L398.9,264 L399.4,264.5 L399.9,265.1 L400.2,265.6 L400.6,266.2 L400.8,266.7 L401,267.3 L401.2,267.8 L401.2,268.4 L401.2,268.9 L401.2,269.4 L401.1,269.9Z" fill="#fbfbfb" stroke="none" stroke-width="0" />
<line x1="380.1" y1="263.1" x2="342.2" y2="379.9" stroke="#161616" stroke-width="2.1" />
<line x1="363.2" y1="386.7" x2="401.1" y2="269.9" stroke="#161616" stroke-width="2.1" />
<path d="M380.1,263.1 L380.3,262.6 L380.6,262.2 L380.9,261.8 L381.3,261.4 L381.7,261 L382.2,260.7 L382.7,260.4 L383.3,260.1 L383.9,259.9 L384.6,259.7 L385.3,259.6 L386.1,259.5 L386.8,259.5 L387.6,259.4 L388.4,259.5 L389.3,259.6 L390.1,259.7 L390.9,259.9 L391.8,260.1 L392.6,260.3 L393.4,260.6 L394.2,260.9 L395,261.3 L395.7,261.7 L396.5,262.1 L397.1,262.5 L397.8,263 L398.4,263.5 L398.9,264 L399.4,264.5 L399.9,265.1 L400.2,265.6 L400.6,266.2 L400.8,266.7 L401,267.3 L401.2,267.8 L401.2,268.4 L401.2,268.9 L401.2,269.4 L401.1,269.9" fill="none" stroke="#161616" stroke-width="2.1" />
<ellipse cx="352.7" cy="383.3" rx="11" ry="7.6" fill="#fbfbfb" stroke="#161616" stroke-width="2.1" transform="rotate(20.977536659462785 352.7 383.3)" />
<path d="M389.8,308 C383.5,313 377,327 376.5,345 C381,340 385.5,324 389.8,308 Z" fill="#fbfbfb" stroke="#161616" stroke-width="1.9" />
<path d="M364.5,373 C361,374 360,378 362.5,380" fill="none" stroke="#161616" stroke-width="1.3" />
<path d="M386,374.8 L421.5,375.6 A2.8,2.8 0 0 1 421.5,381.2 L386,380.6 A2.8,2.8 0 0 1 386,374.8 Z" fill="#fbfbfb" stroke="#161616" stroke-width="1.6" />
<line x1="433" y1="377.3" x2="445" y2="377.2" stroke="#161616" stroke-width="1.3" />
<path d="M493.5,434.3 L501.5,434.3 L504.5,438 L504.5,451 L501.5,454.3 L493.5,454.3 L491.7,444.3 Z" fill="#fbfbfb" stroke="#161616" stroke-width="1.6" />
<line x1="492" y1="444.3" x2="504.5" y2="444.3" stroke="#161616" stroke-width="1.0" />
<line x1="498" y1="434.6" x2="498" y2="437" stroke="#161616" stroke-width="1.0" />
<path d="M504.5,438.9 L526,438.9 L527.2,440 L527.2,449.2 L526,450.3 L504.5,450.3 Z" fill="#fbfbfb" stroke="#161616" stroke-width="1.6" />
<line x1="511" y1="439" x2="511" y2="450" stroke="#161616" stroke-width="1.2" />
<line x1="526" y1="440" x2="526" y2="449" stroke="#161616" stroke-width="2.0" />
<line x1="510" y1="444.6" x2="525" y2="444.6" stroke="#161616" stroke-width="1.0" stroke-dasharray="4 2"/>
<line x1="527.5" y1="445" x2="542.5" y2="445" stroke="#161616" stroke-width="1.1" />
<ellipse cx="583" cy="520" rx="47.5" ry="112.5" fill="#fbfbfb" stroke="#161616" stroke-width="2.1" />
<ellipse cx="593" cy="520" rx="46.5" ry="112" fill="#fbfbfb" stroke="#161616" stroke-width="2.1" />
<path d="M613,441 C604,435.5 588,436 576,444.5 C565,453 559.5,475 559.5,505 C559.5,540 563,572 572,589 C580,602 595,606 610,600 C614,598 617,596 619,594 L613,594 Z" fill="#fbfbfb" stroke="none" stroke-width="0" />
<path d="M613,441 C604,435.5 588,436 576,444.5 C565,453 559.5,475 559.5,505 C559.5,540 563,572 572,589 C580,602 595,606 610,600 C614,598 617,596 619,594" fill="none" stroke="#161616" stroke-width="2.1" />
<path d="M612,445 C602,440.5 590,441 581,449 C571,459 566,480 566,510 C566,545 569,570 578,586 C585,597 597,601 610,596" fill="none" stroke="#161616" stroke-width="2.1" />
<ellipse cx="596.2" cy="421.9" rx="2.9" ry="6.3" fill="#fbfbfb" stroke="#161616" stroke-width="1.6" />
<ellipse cx="572.1" cy="437.9" rx="2.9" ry="6.3" fill="#fbfbfb" stroke="#161616" stroke-width="1.6" />
<ellipse cx="619" cy="441.3" rx="2.9" ry="6.3" fill="#fbfbfb" stroke="#161616" stroke-width="1.6" />
<ellipse cx="555.6" cy="485.9" rx="2.9" ry="6.3" fill="#fbfbfb" stroke="#161616" stroke-width="1.6" />
<ellipse cx="553.7" cy="547.6" rx="2.9" ry="6.3" fill="#fbfbfb" stroke="#161616" stroke-width="1.6" />
<ellipse cx="568" cy="596.9" rx="2.9" ry="6.3" fill="#fbfbfb" stroke="#161616" stroke-width="1.6" />
<ellipse cx="590.8" cy="618.8" rx="2.9" ry="6.3" fill="#fbfbfb" stroke="#161616" stroke-width="1.6" />
<ellipse cx="616.7" cy="603.2" rx="2.9" ry="6.3" fill="#fbfbfb" stroke="#161616" stroke-width="1.6" />
<path d="M600,447 L695,451.2 C703,452 710,455 714,461 C717,466 717.5,470 717.5,473.7 C721,476 724,479 726,484 C728,490 728.5,500 728.5,510 L728,535 C727.5,550 724,563 720,575 C717,583 712,589 705,591.5 C700,593 696,593 690,593.3 L600,593.8 C588,592 579,575 575,555 C572,535 572,505 574,490 C578,465 588,448 600,447 Z" fill="#fbfbfb" stroke="none" stroke-width="0" />
<path d="M600,593.8 C588,592 579,575 575,555 C572,535 572,505 574,490 C578,465 588,448 600,447 L695,451.2 C703,452 710,455 714,461 C717,466 717.5,470 717.5,473.7 C721,476 724,479 726,484 C728,490 728.5,500 728.5,510 L728,535 C727.5,550 724,563 720,575 C717,583 712,589 705,591.5 C700,593 696,593 690,593.3 Z" fill="none" stroke="#161616" stroke-width="2.1" />
<path d="M598,447.6 L668.5,450.3 C664,470 659,487 656,497 C653.5,506 653,515 652.8,527 C652,533 648,537.5 642.3,538.6 L600.2,539.5 C594,539 591.5,535 591.2,529 C590.6,515 590.5,500 591,490 C592,470 594.5,456 598,448 Z" fill="#fbfbfb" stroke="#161616" stroke-width="2.1" />
<line x1="619.4" y1="454.2" x2="669" y2="454.2" stroke="#161616" stroke-width="1.8" />
<path d="M619.4,454.2 C610,459 602,468 598.5,476" fill="none" stroke="#161616" stroke-width="1.8" />
<path d="M672.7,449.3 C668,462 662,478 658,492 C655,503 653.5,512 653,527" fill="none" stroke="#161616" stroke-width="2.1" />
<path d="M599,474.2 C595,490 594.5,508 595.5,521 C596.5,530 599,535 602,537.5" fill="none" stroke="#161616" stroke-width="1.4" />
<path d="M599.5,474.2 C603.5,488 606,500 606.3,507.5 C606.8,520 606.8,530 606.5,537.5" fill="none" stroke="#161616" stroke-width="1.4" />
<path d="M594.3,489.7 C598,500 601,515 602.7,536" fill="none" stroke="#161616" stroke-width="1.2" />
<path d="M646.6,494.2 L645,494 L643.3,493.8 L641.7,493.4 L640.1,492.8 L638.6,492.1 L637.2,491.3 L635.8,490.4 L634.5,489.4 L633.4,488.3 L632.4,487.1 L631.4,485.9 L630.7,484.5 L630.1,483.2 L629.6,481.7 L629.3,480.3 L629.2,478.9 L629.2,477.4 L629.4,476 L629.7,474.6 L630.2,473.3 L630.9,472 L631.7,470.8 L632.6,469.7 L633.7,468.7 L634.8,467.8 L636.1,467 L637.5,466.3 L639,465.7 L640.5,465.3 L642.1,465 L643.7,464.8 L645.4,464.8 L647,465 L648.7,465.2 L650.3,465.6 L651.9,466.2 L653.4,466.9 L654.8,467.7 L656.2,468.6 L657.5,469.6" fill="none" stroke="#161616" stroke-width="2.3" />
<path d="M644.4,490.9 L643.3,490.5 L642.1,490.1 L641,489.6 L640,489 L639,488.3 L638.1,487.6 L637.2,486.8 L636.5,485.9 L635.8,485 L635.2,484.1 L634.7,483.1 L634.3,482.1 L634,481 L633.7,480 L633.6,478.9 L633.7,477.9 L633.8,476.9 L634,475.9 L634.3,474.9 L634.7,474 L635.2,473.1 L635.8,472.2 L636.5,471.4 L637.3,470.7 L638.2,470 L639.1,469.4 L640.1,468.9 L641.1,468.4 L642.2,468.1 L643.4,467.8 L644.6,467.6 L645.7,467.6 L647,467.6 L648.2,467.6 L649.4,467.8 L650.6,468.1 L651.7,468.5 L652.9,468.9 L654,469.4 L655,470" fill="none" stroke="#161616" stroke-width="1.2" />
<ellipse cx="654" cy="474.8" rx="8.4" ry="6.6" fill="#fbfbfb" stroke="#161616" stroke-width="2.2" />
<ellipse cx="649" cy="520.5" rx="4.3" ry="14" fill="#fbfbfb" stroke="#161616" stroke-width="1.6" />
<path d="M650.9,508.7 L651.1,508.9 L651.3,509.1 L651.4,509.4 L651.6,509.7 L651.8,510.1 L651.9,510.6 L652,511 L652.2,511.6 L652.3,512.2 L652.4,512.8 L652.5,513.4 L652.6,514.1 L652.7,514.9 L652.8,515.6 L652.8,516.4 L652.9,517.2 L652.9,518 L653,518.8 L653,519.7 L653,520.5 L653,521.3 L653,522.2 L652.9,523 L652.9,523.8 L652.8,524.6 L652.8,525.4 L652.7,526.1 L652.6,526.9 L652.5,527.6 L652.4,528.2 L652.3,528.8 L652.2,529.4 L652,530 L651.9,530.4 L651.8,530.9 L651.6,531.3 L651.4,531.6 L651.3,531.9 L651.1,532.1 L650.9,532.3" fill="none" stroke="#161616" stroke-width="1.0" />
<line x1="596.8" y1="522.6" x2="642.3" y2="522.6" stroke="#161616" stroke-width="1.0" stroke-dasharray="20 4 3 4"/>
<ellipse cx="700.6" cy="469.2" rx="5" ry="11.2" fill="#fbfbfb" stroke="#161616" stroke-width="2.1" />
<ellipse cx="709" cy="572.7" rx="5" ry="10.2" fill="#fbfbfb" stroke="#161616" stroke-width="2.1" />
<ellipse cx="704" cy="521" rx="13" ry="35" fill="#fbfbfb" stroke="#161616" stroke-width="2.1" />
<ellipse cx="706" cy="521" rx="11" ry="33" fill="#fbfbfb" stroke="#161616" stroke-width="1.3" />
<path d="M708.5,494 L728.7,493.6 L728.7,546.2 L708.5,546.8 Z" fill="#fbfbfb" stroke="none" stroke-width="0" />
<path d="M709,546.8 L708.5,546.7 L708,546.5 L707.5,546.1 L707,545.5 L706.5,544.8 L706,543.9 L705.6,542.9 L705.2,541.8 L704.8,540.5 L704.4,539.1 L704.1,537.5 L703.7,535.9 L703.5,534.2 L703.2,532.4 L703,530.5 L702.8,528.6 L702.7,526.6 L702.6,524.5 L702.5,522.5 L702.5,520.4 L702.5,518.3 L702.6,516.3 L702.7,514.2 L702.8,512.2 L703,510.3 L703.2,508.4 L703.5,506.6 L703.7,504.9 L704.1,503.3 L704.4,501.7 L704.8,500.3 L705.2,499 L705.6,497.9 L706,496.9 L706.5,496 L707,495.3 L707.5,494.7 L708,494.3 L708.5,494.1 L709,494" fill="none" stroke="#161616" stroke-width="2.1" />
<line x1="708.5" y1="494" x2="728.7" y2="493.6" stroke="#161616" stroke-width="2.1" />
<line x1="708.5" y1="546.8" x2="728.7" y2="546.2" stroke="#161616" stroke-width="2.1" />
<ellipse cx="728.7" cy="519.9" rx="11.8" ry="26.4" fill="#fbfbfb" stroke="#161616" stroke-width="2.1" />
<ellipse cx="729.8" cy="520.2" rx="9.2" ry="23.3" fill="#fbfbfb" stroke="#161616" stroke-width="1.5" />
<line x1="722" y1="521.2" x2="735" y2="521.2" stroke="#161616" stroke-width="1.0" stroke-dasharray="5 2"/>
<line x1="742.8" y1="520.8" x2="768" y2="520.6" stroke="#161616" stroke-width="1.2" />
<path d="M643.5,562.2 L688,559.3 C692,559.3 694,564 694,571 C694,579 692,583.5 688,583.7 L651,584.3 Z" fill="#fbfbfb" stroke="#161616" stroke-width="2.1" />
<line x1="650" y1="565.5" x2="651" y2="584" stroke="#161616" stroke-width="1.4" />
<path d="M643.5,562.2 L650,565.5 L651,584.3 Z" fill="#161616" stroke="#161616" stroke-width="0.8" />
<ellipse cx="624" cy="575" rx="10.6" ry="7.4" fill="#fbfbfb" stroke="#161616" stroke-width="2.1" />
<line x1="531" y1="288" x2="647.4" y2="504" stroke="#161616" stroke-width="1.3" stroke-dasharray="20 4 3 4"/>
<path d="M229,476.8 L256.5,476.8 L256.5,573 L229,573 C219,573 213.2,550 213.2,524.9 C213.2,500 219,476.8 229,476.8 Z" fill="#fbfbfb" stroke="#161616" stroke-width="2.1" />
<ellipse cx="254" cy="524.9" rx="19.4" ry="48.1" fill="#fbfbfb" stroke="#161616" stroke-width="2.1" />
<path d="M240.5,492.8 C246,500 249.3,512 249.3,524.5 C249.3,537 246,550 240.5,557" fill="none" stroke="#161616" stroke-width="2.1" />
<line x1="238" y1="524.5" x2="273" y2="524.3" stroke="#161616" stroke-width="1.0" stroke-dasharray="20 4 3 4"/>
<path d="M327,481.3 C315,481.5 306,485 301,489 C296,500 292.5,510 292.5,524 C292.5,540 296,552 303,561 C310,566 318,567 327,567 Z" fill="#fbfbfb" stroke="none" stroke-width="0" />
<path d="M329,481.3 C318,481.5 309,484 303,488.5 L301.5,494 C298.5,495 298.5,504.9 301.5,505.9 L297.3,505.9 C294.3,506.9 294.3,517.5 297.3,518.5 L295.2,518.5 C292.2,519.5 292.2,530.1 295.2,531.1 L297.3,531.1 C294.3,532.1 294.3,544.2 297.3,545.2 L301.5,545.2 C298.5,546.2 298.5,555.4 301.5,556.4 L305.5,556.4 C302.5,557.4 302.5,562 305.5,563 C309,565 318,567 329,567.3" fill="none" stroke="#161616" stroke-width="2.1" />
<line x1="301.5" y1="494" x2="310.5" y2="493.4" stroke="#161616" stroke-width="1.8" />
<line x1="297.3" y1="505.9" x2="310.5" y2="505.5" stroke="#161616" stroke-width="1.8" />
<line x1="295.2" y1="518.5" x2="310.5" y2="518.4" stroke="#161616" stroke-width="1.8" />
<line x1="297.3" y1="531.1" x2="310.5" y2="531.2" stroke="#161616" stroke-width="1.8" />
<line x1="301.5" y1="545.2" x2="310.5" y2="545.6" stroke="#161616" stroke-width="1.8" />
<line x1="305.5" y1="556.4" x2="310.5" y2="557" stroke="#161616" stroke-width="1.8" />
<path d="M329,567 L327.5,566.9 L326.1,566.5 L324.6,565.8 L323.2,564.9 L321.8,563.7 L320.5,562.3 L319.2,560.7 L318,558.8 L316.9,556.7 L315.8,554.4 L314.8,551.9 L313.9,549.3 L313.1,546.5 L312.3,543.5 L311.7,540.5 L311.2,537.3 L310.8,534 L310.5,530.7 L310.4,527.4 L310.3,524 L310.4,520.6 L310.5,517.3 L310.8,514 L311.2,510.7 L311.7,507.5 L312.3,504.5 L313.1,501.5 L313.9,498.7 L314.8,496.1 L315.8,493.6 L316.9,491.3 L318,489.2 L319.2,487.3 L320.5,485.7 L321.8,484.3 L323.2,483.1 L324.6,482.2 L326.1,481.5 L327.5,481.1 L329,481" fill="none" stroke="#161616" stroke-width="1.8" />
<path d="M330.5,566.6 L329.2,566.5 L327.9,566.1 L326.6,565.4 L325.3,564.5 L324.1,563.4 L322.9,562 L321.7,560.3 L320.6,558.5 L319.6,556.4 L318.6,554.1 L317.7,551.7 L316.9,549 L316.2,546.3 L315.5,543.3 L315,540.3 L314.5,537.2 L314.2,533.9 L313.9,530.7 L313.8,527.3 L313.7,524 L313.8,520.7 L313.9,517.3 L314.2,514.1 L314.5,510.8 L315,507.7 L315.5,504.7 L316.2,501.7 L316.9,499 L317.7,496.3 L318.6,493.9 L319.6,491.6 L320.6,489.5 L321.7,487.7 L322.9,486 L324.1,484.6 L325.3,483.5 L326.6,482.6 L327.9,481.9 L329.2,481.5 L330.5,481.4" fill="none" stroke="#161616" stroke-width="1.6" />
<ellipse cx="333.5" cy="524.2" rx="15.5" ry="42.5" fill="#fbfbfb" stroke="#161616" stroke-width="2.1" />
<path d="M332.7,564.1 L331.7,563.5 L330.8,562.7 L329.9,561.8 L329.1,560.6 L328.2,559.3 L327.5,557.8 L326.7,556.1 L326,554.3 L325.3,552.3 L324.7,550.2 L324.1,548 L323.6,545.7 L323.1,543.2 L322.7,540.7 L322.3,538.1 L322,535.4 L321.8,532.6 L321.6,529.8 L321.5,527 L321.5,524.2 L321.5,521.4 L321.6,518.6 L321.8,515.8 L322,513 L322.3,510.3 L322.7,507.7 L323.1,505.2 L323.6,502.7 L324.1,500.4 L324.7,498.2 L325.3,496.1 L326,494.1 L326.7,492.3 L327.5,490.6 L328.2,489.1 L329.1,487.8 L329.9,486.6 L330.8,485.7 L331.7,484.9 L332.7,484.3" fill="none" stroke="#161616" stroke-width="1.2" />
<ellipse cx="333.4" cy="523.4" rx="9.1" ry="24.2" fill="#fbfbfb" stroke="#161616" stroke-width="2.1" />
<line x1="327" y1="523.6" x2="347.8" y2="523.6" stroke="#161616" stroke-width="1.0" stroke-dasharray="4 3"/>
<ellipse cx="414.5" cy="522.2" rx="15.9" ry="36.7" fill="#fbfbfb" stroke="#161616" stroke-width="2.1" />
<ellipse cx="415.1" cy="522.6" rx="12.1" ry="28.6" fill="#fbfbfb" stroke="#161616" stroke-width="2.1" />
<line x1="404.5" y1="522.4" x2="425.5" y2="522.4" stroke="#161616" stroke-width="1.0" stroke-dasharray="5 3 2 3"/>
<ellipse cx="456.4" cy="522.2" rx="15.9" ry="36.7" fill="#fbfbfb" stroke="#161616" stroke-width="2.1" />
<ellipse cx="457.3" cy="522.6" rx="12.1" ry="28.6" fill="#fbfbfb" stroke="#161616" stroke-width="2.1" />
<line x1="446.4" y1="522.4" x2="467.4" y2="522.4" stroke="#161616" stroke-width="1.0" stroke-dasharray="5 3 2 3"/>
<ellipse cx="499" cy="522.2" rx="15.9" ry="36.7" fill="#fbfbfb" stroke="#161616" stroke-width="2.1" />
<ellipse cx="499.3" cy="522.6" rx="12.1" ry="28.6" fill="#fbfbfb" stroke="#161616" stroke-width="2.1" />
<line x1="489" y1="522.4" x2="510" y2="522.4" stroke="#161616" stroke-width="1.0" stroke-dasharray="5 3 2 3"/>
<line x1="209.8" y1="528.8" x2="201.4" y2="559" stroke="#161616" stroke-width="1.1" />
<line x1="248.4" y1="599.9" x2="239" y2="632.1" stroke="#161616" stroke-width="1.1" />
<path d="M194.1,559.8 C196.6,559.2 199.3,559.5 201.7,560.7 C204.1,561.9 206.7,564.4 208.6,567 C210.5,569.6 212.2,573.7 213,576.5 C213.8,579.3 213.8,580.9 213.7,584 C213.6,587.1 212.8,590.4 212.6,595 C212.4,599.6 212.3,606.7 212.6,611.9 C212.9,617.1 213.3,622.2 214.2,626 C215.1,629.8 214.9,633.4 217.9,634.9 C220.9,636.4 228.2,634.9 232,634.9 C235.8,634.9 238.8,634.8 241,635 C243.2,635.2 244.4,635 245.5,636 C246.6,637 247.3,638.9 247.6,641 C247.8,643.1 247.6,645.6 247,648.4 C246.4,651.2 245,654.8 244,658 C243,661.2 242.4,664.6 241.2,667.8 C240,671 238.3,674 237,677 C235.7,680 234.4,683.4 233.4,685.9 C232.4,688.4 232.4,690.5 230.9,692 C229.4,693.5 226.8,694.7 224.4,694.9 C222,695.1 219.1,694.3 216.7,693 C214.3,691.7 212.1,688.6 210.2,687.1 C208.2,685.6 206.9,684.8 205,684 C203.1,683.2 201.5,685.8 199,682.5 C196.5,679.2 192.8,669.7 190,664 C187.2,658.3 183.8,652.5 182.4,648.4 C181,644.3 182.6,642.3 181.8,639.4 C181.1,636.5 179.4,633.6 177.9,631 C176.4,628.4 174.2,626.8 173,624 C171.8,621.2 170.8,617 170.5,614 C170.2,611 170.9,608.7 171.5,606 C172.1,603.3 172.9,601.2 174,598 C175.1,594.8 176.6,591 178,587 C179.4,583 181.3,577.8 182.7,574 C184.1,570.2 184.6,566.9 186.5,564.5 C188.4,562.1 191.6,560.4 194.1,559.8Z" fill="#fbfbfb" stroke="#161616" stroke-width="2.1" />
<path d="M214.2,626 C214.7,627.7 215.7,633 217,636 C218.3,639 220.1,641.9 222,644 C223.9,646.1 226.2,648.3 228.3,648.4 C230.4,648.5 232.9,646 234.7,644.5 C236.5,643 238.5,640.2 239.3,639.4" fill="none" stroke="#161616" stroke-width="2.1" />
<path d="M172.6,603.5 C173.5,603.2 175.3,602 178,601.8 C180.7,601.6 185.9,601.1 189,602.4 C192.1,603.7 194.9,606.5 196.6,609.4 C198.3,612.2 198.7,617.8 199.1,619.5" fill="none" stroke="#161616" stroke-width="2.1" />
<ellipse cx="184.6" cy="611.3" rx="7.3" ry="5.6" fill="#fbfbfb" stroke="#161616" stroke-width="2.1" />
<line x1="178.5" y1="621" x2="199.5" y2="621" stroke="#161616" stroke-width="2.4" />
<line x1="179.5" y1="628.2" x2="200" y2="628.2" stroke="#161616" stroke-width="1.8" />
<line x1="181.8" y1="640.9" x2="198.6" y2="640.9" stroke="#161616" stroke-width="1.8" />
<line x1="182.4" y1="646" x2="196" y2="646" stroke="#161616" stroke-width="1.8" />
<line x1="199.1" y1="619.5" x2="200" y2="628.2" stroke="#161616" stroke-width="1.6" />
<line x1="200" y1="628.2" x2="198.6" y2="640.9" stroke="#161616" stroke-width="1.6" />
<line x1="198.6" y1="641" x2="217.3" y2="679.4" stroke="#161616" stroke-width="1.7" />
<line x1="196" y1="646.3" x2="214.1" y2="680.7" stroke="#161616" stroke-width="1.7" />
<path d="M203,683.5 C204.5,682.9 208.8,680.4 212,679.6 C215.2,678.8 219.1,678.7 222,678.6 C224.9,678.5 227.9,678.1 229.6,678.8 C231.3,679.5 231.7,681.5 232,683 C232.3,684.5 231.6,687.2 231.5,688" fill="none" stroke="#161616" stroke-width="2.1" />
<ellipse cx="221.2" cy="685.9" rx="6.8" ry="4.8" fill="#fbfbfb" stroke="#161616" stroke-width="2.1" />
<line x1="184.6" y1="611.8" x2="170.2" y2="656.8" stroke="#161616" stroke-width="1.1" />
<line x1="221.2" y1="685.9" x2="214.7" y2="707.8" stroke="#161616" stroke-width="1.1" />
</svg></body></html>
